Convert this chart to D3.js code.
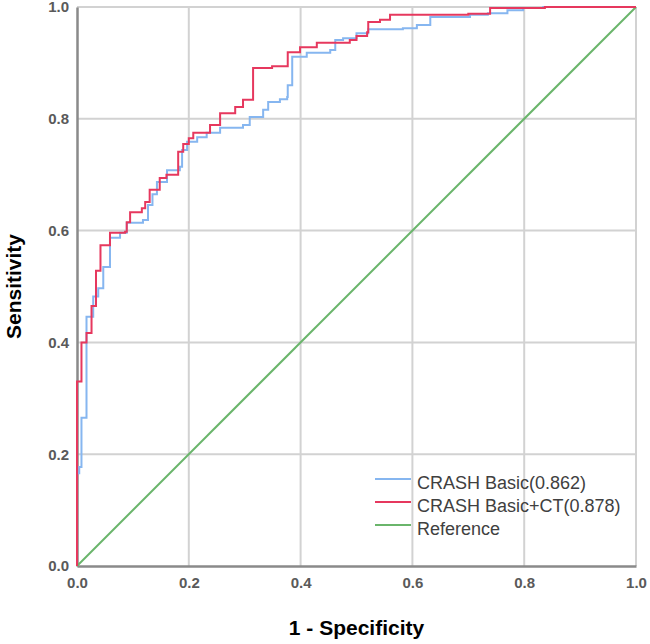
<!DOCTYPE html>
<html>
<head>
<meta charset="utf-8">
<script src="https://cdn.jsdelivr.net/npm/d3@7"></script>
<style>
  body { margin: 0; background: #fff; }
  svg { display: block; font-family: "Liberation Sans", Arial, sans-serif; }
</style>
</head>
<body>
<svg width="650" height="644"></svg>
<script>
// ROC points (1 - specificity, sensitivity), step vertices
var basicFpr = [0, 0, 0.004, 0.008, 0.017, 0.029, 0.038, 0.047, 0.059, 0.077, 0.089, 0.118, 0.127, 0.135, 0.143, 0.161, 0.184, 0.188, 0.197, 0.215, 0.232, 0.256, 0.297, 0.309, 0.333, 0.342, 0.363, 0.376, 0.377, 0.385, 0.411, 0.453, 0.462, 0.476, 0.500, 0.521, 0.583, 0.608, 0.632, 0.703, 0.735, 0.770, 0.798, 0.834, 1];
var basicTpr = [0, 0.166, 0.177, 0.265, 0.446, 0.482, 0.497, 0.535, 0.587, 0.596, 0.614, 0.619, 0.646, 0.665, 0.687, 0.708, 0.714, 0.744, 0.759, 0.767, 0.775, 0.784, 0.789, 0.803, 0.816, 0.830, 0.835, 0.839, 0.860, 0.911, 0.918, 0.923, 0.941, 0.944, 0.953, 0.960, 0.962, 0.968, 0.982, 0.986, 0.989, 0.994, 0.998, 1, 1];

var ctFpr = [0, 0, 0.008, 0.017, 0.026, 0.034, 0.042, 0.059, 0.086, 0.089, 0.095, 0.116, 0.122, 0.130, 0.148, 0.160, 0.181, 0.190, 0.200, 0.208, 0.238, 0.256, 0.283, 0.297, 0.315, 0.349, 0.377, 0.399, 0.429, 0.488, 0.500, 0.519, 0.521, 0.542, 0.560, 0.700, 0.739, 0.837, 1];
var ctTpr = [0, 0.330, 0.400, 0.417, 0.465, 0.528, 0.574, 0.596, 0.598, 0.615, 0.633, 0.640, 0.651, 0.673, 0.694, 0.700, 0.741, 0.755, 0.765, 0.775, 0.789, 0.810, 0.821, 0.834, 0.891, 0.894, 0.919, 0.928, 0.936, 0.941, 0.948, 0.955, 0.973, 0.977, 0.986, 0.988, 0.998, 1, 1];

var refFpr = [0, 1];
var refTpr = [0, 1];

var seriesNames = ["CRASH Basic(0.862)", "CRASH Basic+CT(0.878)", "Reference"];
var ticks = [0, 0.2, 0.4, 0.6, 0.8, 1.0];

var svg = d3.select("svg"),
    margin = {top: 7, right: 14, bottom: 78, left: 77},
    width = +svg.attr("width") - margin.left - margin.right,
    height = +svg.attr("height") - margin.top - margin.bottom;

var x = d3.scaleLinear().domain([0, 1]).range([0, width]),
    y = d3.scaleLinear().domain([0, 1]).range([height, 0]);

var colours = ["#86b6f0", "#e6385e", "#6ab56b"];

var g = svg.append("g")
    .attr("transform", "translate(" + margin.left + "," + margin.top + ")");

// grid
g.append("g").selectAll("line.vg")
    .data(ticks.slice(1))
  .enter().append("line")
    .attr("x1", function(d) { return x(d); })
    .attr("x2", function(d) { return x(d); })
    .attr("y1", 0).attr("y2", height)
    .attr("stroke", "#d2d2d2").attr("stroke-width", 2);

g.append("g").selectAll("line.hg")
    .data(ticks.slice(1))
  .enter().append("line")
    .attr("y1", function(d) { return y(d); })
    .attr("y2", function(d) { return y(d); })
    .attr("x1", 0).attr("x2", width)
    .attr("stroke", "#d2d2d2").attr("stroke-width", 2);

// axes
var xAxis = g.append("g")
    .attr("transform", "translate(0," + height + ")")
    .call(d3.axisBottom(x).tickValues(ticks).tickFormat(d3.format(".1f")).tickSize(0).tickPadding(11));

var yAxis = g.append("g")
    .call(d3.axisLeft(y).tickValues(ticks).tickFormat(d3.format(".1f")).tickSize(0).tickPadding(8));

[xAxis, yAxis].forEach(function(a) {
  a.select(".domain").attr("stroke", "#8a8a8a").attr("stroke-width", 2.5);
  a.selectAll("text")
      .attr("fill", "#5a5a5a")
      .style("font-size", "15px")
      .style("font-weight", "bold");
});

// lines
var line = d3.line()
    .x(function(d) { return x(d[0]); })
    .y(function(d) { return y(d[1]); });

var curves = [
  {pts: d3.zip(basicFpr, basicTpr), curve: d3.curveStepAfter},
  {pts: d3.zip(ctFpr, ctTpr), curve: d3.curveStepAfter},
  {pts: d3.zip(refFpr, refTpr), curve: d3.curveLinear}
];

[2, 0, 1].forEach(function(i) {
  g.append("path")
      .datum(curves[i].pts)
      .attr("fill", "none")
      .attr("stroke", colours[i])
      .attr("stroke-width", 2)
      .attr("d", line.curve(curves[i].curve));
});

// legend
var legend = g.append("g")
    .attr("transform", "translate(298,472)");

var item = legend.selectAll("g")
    .data(seriesNames)
  .enter().append("g")
    .attr("transform", function(d, i) { return "translate(0," + (i * 23) + ")"; });

item.append("line")
    .attr("x1", 0).attr("x2", 36)
    .attr("y1", 0).attr("y2", 0)
    .attr("stroke", function(d, i) { return colours[i]; })
    .attr("stroke-width", 2);

item.append("text")
    .attr("x", 42)
    .attr("y", 10)
    .attr("fill", "#404040")
    .style("font-size", "18px")
    .text(function(d) { return d; });

// axis titles
svg.append("text")
    .attr("x", margin.left + width / 2)
    .attr("y", 635)
    .attr("text-anchor", "middle")
    .style("font-size", "21px")
    .style("font-weight", "bold")
    .text("1 - Specificity");

svg.append("text")
    .attr("transform", "translate(21," + (margin.top + height / 2) + ") rotate(-90)")
    .attr("text-anchor", "middle")
    .style("font-size", "21px")
    .style("font-weight", "bold")
    .text("Sensitivity");
</script>
</body>
</html>
